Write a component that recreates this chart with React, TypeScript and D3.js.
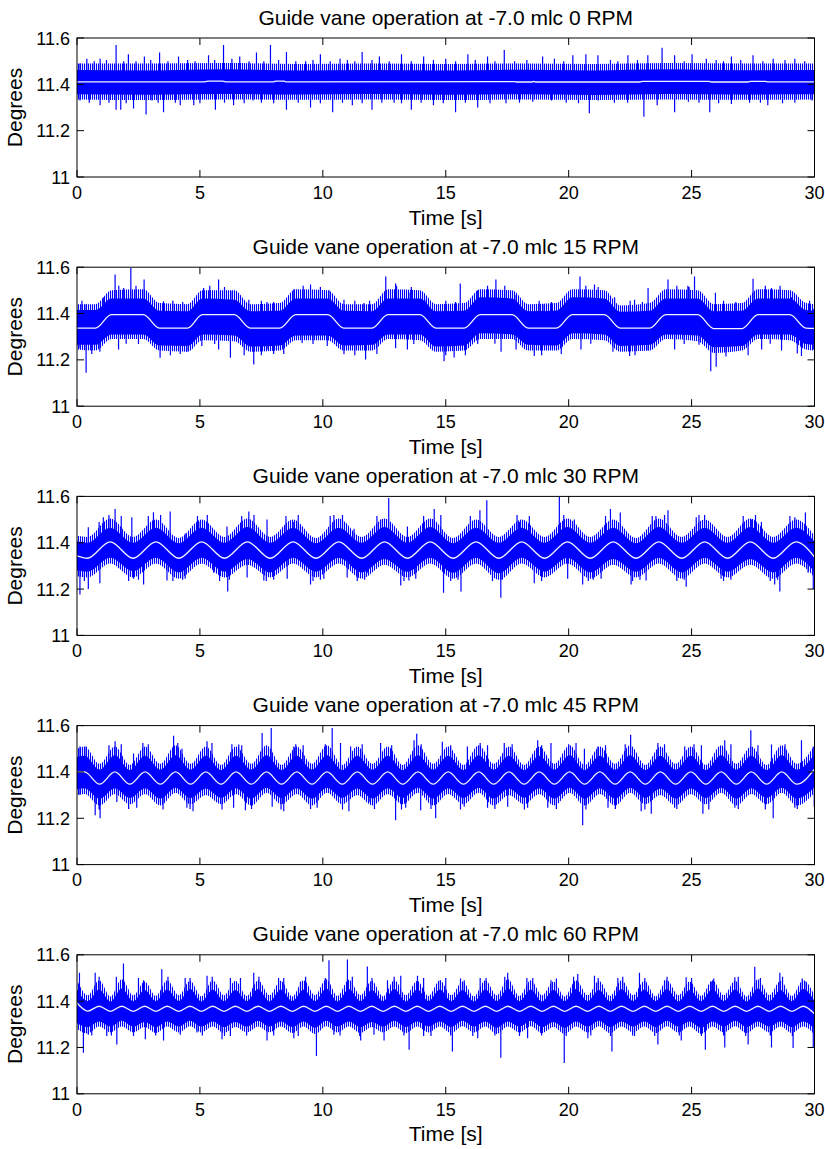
import React from "react";
import * as d3 from "d3";

type Pt = [number, number];
// [time, outer low, core low, core high, outer high]
type Bd = [number, number, number, number, number];

// Axis ticks and panel titles
const timeTicks = [0, 5, 10, 15, 20, 25, 30];
const degreeTicks = [11, 11.2, 11.4, 11.6];
const rpmLabels = [0, 15, 30, 45, 60];

// ---------- 0 RPM ----------
const p1Smooth: Pt[] = [
  [0, 11.411], [5.2, 11.411], [5.35, 11.414], [5.9, 11.414], [6.05, 11.411], [8.0, 11.411], [8.1, 11.414],
  [8.4, 11.414], [8.5, 11.411], [17.8, 11.412], [17.9, 11.41], [18.5, 11.41], [18.55, 11.413], [18.65, 11.41],
  [22.9, 11.41], [23.0, 11.413], [25.7, 11.413], [25.8, 11.41], [27.3, 11.41], [27.4, 11.413], [28.0, 11.413],
  [28.1, 11.411], [30, 11.411],
];
const p1Band: Bd[] = [
  [0, 11.335, 11.357, 11.462, 11.49], [3, 11.332, 11.355, 11.46, 11.49], [6, 11.335, 11.358, 11.465, 11.492],
  [9, 11.333, 11.356, 11.46, 11.488], [12, 11.335, 11.358, 11.462, 11.49], [15, 11.332, 11.355, 11.46, 11.488],
  [18, 11.335, 11.357, 11.463, 11.49], [21, 11.332, 11.354, 11.46, 11.488], [24, 11.335, 11.358, 11.465, 11.492],
  [27, 11.333, 11.356, 11.461, 11.49], [30, 11.335, 11.357, 11.462, 11.49],
];
const p1Up: Pt[] = [
  [0.12, 11.49], [0.4, 11.51], [0.94, 11.51], [1.59, 11.57], [2.09, 11.53], [2.74, 11.52], [3.36, 11.537], [4.13, 11.52],
  [5.35, 11.525], [5.96, 11.57], [6.62, 11.52], [7.3, 11.537], [7.87, 11.57], [8.52, 11.54], [9.3, 11.5], [9.9, 11.53],
  [10.7, 11.51], [11.6, 11.54], [12.3, 11.52], [13.2, 11.53], [14.1, 11.52], [15.0, 11.51], [15.9, 11.53], [16.7, 11.52],
  [17.38, 11.548], [18.94, 11.52], [19.42, 11.51], [20.17, 11.525], [20.7, 11.53], [21.19, 11.525], [22.41, 11.525],
  [23.22, 11.525], [23.8, 11.558], [24.31, 11.525], [25.02, 11.53], [25.6, 11.51], [26.62, 11.52], [27.5, 11.525],
  [28.32, 11.51], [29.2, 11.51],
  [0.7, 11.5], [1.2, 11.505], [1.9, 11.5], [2.4, 11.5], [3.0, 11.505], [3.7, 11.5], [4.5, 11.505], [4.8, 11.5],
  [5.6, 11.505], [6.3, 11.51], [7.0, 11.5], [7.6, 11.5], [8.2, 11.505], [8.9, 11.5], [9.6, 11.505], [10.3, 11.5],
  [11.0, 11.505], [11.3, 11.5], [12.0, 11.505], [12.7, 11.5], [13.6, 11.5], [14.5, 11.505], [15.4, 11.5],
  [16.2, 11.505], [17.0, 11.5], [17.8, 11.5], [18.3, 11.505], [19.8, 11.5], [21.7, 11.505], [22.0, 11.5],
  [22.8, 11.505], [24.7, 11.5], [26.0, 11.505], [26.3, 11.5], [27.0, 11.505], [27.9, 11.5], [28.8, 11.505], [29.6, 11.5],
];
const p1Down: Pt[] = [
  [0.12, 11.33], [0.94, 11.31], [1.59, 11.29], [1.78, 11.29], [2.3, 11.296], [2.81, 11.27], [3.05, 11.33], [3.52, 11.28],
  [4.2, 11.31], [4.75, 11.31], [5.63, 11.29], [6.37, 11.31], [7.16, 11.33], [8.52, 11.29], [9.5, 11.3], [10.4, 11.28],
  [11.2, 11.31], [12.0, 11.29], [12.9, 11.32], [13.6, 11.29], [14.5, 11.31], [15.4, 11.28], [16.3, 11.3],
  [17.45, 11.318], [18.54, 11.325], [19.3, 11.33], [20.84, 11.275], [21.2, 11.33], [21.86, 11.32], [23.06, 11.26],
  [23.6, 11.31], [24.31, 11.28], [24.87, 11.325], [25.74, 11.28], [26.62, 11.315], [27.36, 11.32], [28.1, 11.31],
  [29.2, 11.32], [29.9, 11.33],
  [0.5, 11.32], [1.3, 11.32], [2.0, 11.318], [3.3, 11.32], [4.0, 11.32], [5.0, 11.318], [6.0, 11.32], [6.8, 11.318],
  [7.5, 11.32], [8.0, 11.318], [9.0, 11.32], [9.9, 11.318], [10.8, 11.32], [11.6, 11.318], [12.4, 11.32], [13.2, 11.318],
  [14.0, 11.32], [14.9, 11.318], [15.8, 11.32], [16.8, 11.318], [18.0, 11.32], [19.9, 11.32], [20.4, 11.318],
  [22.4, 11.32], [25.3, 11.32], [26.1, 11.318], [27.8, 11.32], [28.7, 11.318],
];

// ---------- 15 RPM ----------
const p2Smooth: Pt[] = [
  [0, 11.337], [0.75, 11.337], [1.4, 11.395], [2.7, 11.395], [3.35, 11.337], [4.5, 11.337], [5.1, 11.395], [6.4, 11.395],
  [7.05, 11.337], [8.25, 11.337], [8.9, 11.395], [10.2, 11.395], [10.85, 11.337], [12.0, 11.337], [12.65, 11.395],
  [13.95, 11.395], [14.6, 11.337], [15.75, 11.337], [16.4, 11.395], [17.7, 11.395], [18.35, 11.337], [19.5, 11.337],
  [20.15, 11.395], [21.45, 11.395], [22.1, 11.337], [23.3, 11.337], [23.95, 11.395], [25.25, 11.395], [25.9, 11.335],
  [27.05, 11.335], [27.7, 11.395], [29.0, 11.395], [29.65, 11.337], [30, 11.336],
];
const p2Band: Bd[] = [
  [0, 11.245, 11.265, 11.415, 11.44], [0.75, 11.24, 11.265, 11.415, 11.44], [1.4, 11.29, 11.31, 11.465, 11.5],
  [2.7, 11.29, 11.31, 11.465, 11.505], [3.35, 11.24, 11.262, 11.412, 11.445], [4.5, 11.235, 11.26, 11.41, 11.44],
  [5.1, 11.285, 11.31, 11.465, 11.5], [6.4, 11.28, 11.305, 11.46, 11.5], [7.05, 11.235, 11.258, 11.41, 11.44],
  [8.25, 11.24, 11.262, 11.412, 11.445], [8.9, 11.285, 11.305, 11.465, 11.505], [10.2, 11.285, 11.305, 11.465, 11.5],
  [10.85, 11.24, 11.262, 11.412, 11.44], [12.0, 11.24, 11.265, 11.41, 11.44], [12.65, 11.29, 11.31, 11.465, 11.505],
  [13.95, 11.285, 11.31, 11.465, 11.5], [14.6, 11.235, 11.258, 11.41, 11.44], [15.75, 11.24, 11.262, 11.412, 11.445],
  [16.4, 11.29, 11.315, 11.47, 11.505], [17.7, 11.29, 11.31, 11.465, 11.5], [18.35, 11.24, 11.265, 11.41, 11.44],
  [19.5, 11.24, 11.262, 11.412, 11.445], [20.15, 11.29, 11.315, 11.47, 11.505], [21.45, 11.285, 11.31, 11.465, 11.5],
  [22.1, 11.235, 11.26, 11.408, 11.435], [23.3, 11.24, 11.265, 11.412, 11.445], [23.95, 11.29, 11.31, 11.465, 11.505],
  [25.25, 11.28, 11.305, 11.465, 11.5], [25.9, 11.23, 11.255, 11.41, 11.44], [27.05, 11.24, 11.26, 11.412, 11.445],
  [27.7, 11.29, 11.31, 11.465, 11.505], [29.0, 11.285, 11.31, 11.465, 11.5], [29.65, 11.245, 11.268, 11.415, 11.445],
  [30, 11.24, 11.265, 11.412, 11.44],
];
const p2Up: Pt[] = [
  [0.37, 11.44], [1.07, 11.47], [1.55, 11.568], [1.9, 11.51], [2.19, 11.597], [2.73, 11.547], [3.52, 11.453], [4.13, 11.44],
  [5.15, 11.51], [5.76, 11.547], [6.31, 11.497], [6.99, 11.46], [7.73, 11.45], [8.82, 11.505], [9.5, 11.525], [10.25, 11.5],
  [10.86, 11.46], [11.67, 11.445], [12.56, 11.56], [12.96, 11.53], [13.5, 11.49], [14.2, 11.46], [15.59, 11.53], [16.3, 11.5],
  [17.04, 11.547], [17.86, 11.48], [19.0, 11.44], [20.46, 11.56], [21.05, 11.525], [21.87, 11.47], [22.68, 11.46],
  [23.23, 11.51], [24.04, 11.547], [24.85, 11.52], [25.12, 11.56], [25.97, 11.49], [27.5, 11.55], [28.25, 11.51],
  [29.07, 11.47], [29.95, 11.42],
  [1.7, 11.52], [2.4, 11.52], [5.4, 11.52], [6.0, 11.515], [9.2, 11.52], [9.9, 11.515], [13.0, 11.52], [13.6, 11.515],
  [16.7, 11.52], [17.4, 11.52], [20.7, 11.52], [21.2, 11.515], [24.4, 11.52], [24.9, 11.515], [28.0, 11.52], [28.6, 11.52],
  [0.2, 11.455], [3.9, 11.455], [4.3, 11.45], [7.5, 11.455], [8.0, 11.45], [11.3, 11.455], [11.9, 11.455], [15.0, 11.455],
  [15.4, 11.45], [18.8, 11.455], [19.3, 11.45], [22.5, 11.455], [23.0, 11.45], [26.3, 11.455], [26.8, 11.45], [29.8, 11.455],
];
const p2Down: Pt[] = [
  [0.12, 11.25], [0.37, 11.144], [0.93, 11.235], [1.69, 11.245], [3.38, 11.209], [4.47, 11.235], [5.08, 11.26],
  [5.76, 11.245], [6.24, 11.209], [7.19, 11.18], [7.73, 11.245], [8.41, 11.225], [9.16, 11.273], [10.18, 11.26],
  [10.86, 11.224], [11.74, 11.202], [12.96, 11.25], [13.44, 11.245], [14.93, 11.194], [15.34, 11.21], [16.3, 11.268],
  [17.25, 11.235], [17.86, 11.245], [18.6, 11.217], [19.34, 11.245], [20.5, 11.245], [21.8, 11.235], [22.48, 11.217],
  [23.23, 11.24], [24.31, 11.245], [25.78, 11.151], [26.0, 11.17], [26.9, 11.26], [27.85, 11.245], [28.66, 11.24],
  [29.47, 11.217], [29.95, 11.245],
  [0.6, 11.225], [2.0, 11.27], [2.5, 11.268], [3.8, 11.22], [4.2, 11.225], [5.6, 11.268], [6.8, 11.22], [7.5, 11.22],
  [8.0, 11.225], [9.6, 11.268], [11.3, 11.22], [12.2, 11.225], [13.7, 11.268], [15.0, 11.22], [15.8, 11.22], [17.0, 11.27],
  [18.9, 11.22], [19.7, 11.225], [20.9, 11.27], [22.7, 11.22], [24.7, 11.268], [25.3, 11.265], [26.4, 11.215],
  [27.3, 11.22], [28.2, 11.27], [29.3, 11.228],
];

// ---------- 30 RPM ----------
const p3Smooth: Pt[] = [
  [0, 11.343], [0.42, 11.333], [1.35, 11.404], [2.28, 11.333], [3.21, 11.404], [4.14, 11.333], [5.07, 11.404],
  [6.0, 11.333], [6.93, 11.404], [7.86, 11.333], [8.79, 11.404], [9.72, 11.333], [10.65, 11.404], [11.58, 11.333],
  [12.51, 11.404], [13.44, 11.333], [14.37, 11.404], [15.3, 11.333], [16.23, 11.404], [17.16, 11.333], [18.09, 11.404],
  [19.02, 11.333], [19.95, 11.404], [20.88, 11.333], [21.81, 11.404], [22.74, 11.333], [23.67, 11.404], [24.6, 11.333],
  [25.53, 11.404], [26.46, 11.333], [27.39, 11.404], [28.32, 11.333], [29.25, 11.404], [30, 11.338],
];
const p3Band: Bd[] = [
  [0, 11.255, 11.28, 11.405, 11.43], [0.42, 11.25, 11.275, 11.4, 11.425], [1.35, 11.31, 11.335, 11.465, 11.505],
  [2.28, 11.25, 11.278, 11.4, 11.425], [3.21, 11.31, 11.335, 11.465, 11.5], [4.14, 11.245, 11.272, 11.398, 11.42],
  [5.07, 11.31, 11.335, 11.465, 11.5], [6.0, 11.25, 11.275, 11.4, 11.425], [6.93, 11.305, 11.33, 11.468, 11.505],
  [7.86, 11.25, 11.272, 11.4, 11.425], [8.79, 11.31, 11.335, 11.465, 11.5], [9.72, 11.25, 11.275, 11.398, 11.42],
  [10.65, 11.31, 11.335, 11.465, 11.505], [11.58, 11.245, 11.272, 11.4, 11.425], [12.51, 11.305, 11.33, 11.468, 11.505],
  [13.44, 11.25, 11.275, 11.4, 11.425], [14.37, 11.31, 11.335, 11.468, 11.505], [15.3, 11.245, 11.27, 11.398, 11.42],
  [16.23, 11.31, 11.335, 11.465, 11.5], [17.16, 11.24, 11.268, 11.4, 11.425], [18.09, 11.31, 11.335, 11.465, 11.5],
  [19.02, 11.25, 11.275, 11.4, 11.425], [19.95, 11.31, 11.335, 11.468, 11.505], [20.88, 11.245, 11.272, 11.4, 11.425],
  [21.81, 11.305, 11.33, 11.465, 11.5], [22.74, 11.25, 11.275, 11.398, 11.42], [23.67, 11.31, 11.335, 11.468, 11.505],
  [24.6, 11.245, 11.272, 11.4, 11.425], [25.53, 11.31, 11.335, 11.465, 11.5], [26.46, 11.25, 11.275, 11.4, 11.425],
  [27.39, 11.305, 11.33, 11.468, 11.505], [28.32, 11.245, 11.272, 11.4, 11.425], [29.25, 11.31, 11.335, 11.465, 11.5],
  [30, 11.25, 11.275, 11.405, 11.43],
];
const p3Up: Pt[] = [
  [0.46, 11.467], [1.07, 11.51], [1.55, 11.546], [2.23, 11.51], [3.11, 11.532], [3.79, 11.535], [4.4, 11.44], [5.01, 11.49],
  [6.1, 11.47], [6.99, 11.535], [7.73, 11.5], [8.82, 11.49], [9.09, 11.47], [10.45, 11.52], [11.27, 11.46], [12.35, 11.5],
  [12.68, 11.593], [13.44, 11.47], [14.53, 11.546], [16.39, 11.54], [16.67, 11.583], [18.0, 11.49], [19.62, 11.597],
  [20.23, 11.5], [21.7, 11.546], [22.1, 11.53], [23.55, 11.515], [24.04, 11.54], [25.19, 11.51], [25.53, 11.52],
  [27.43, 11.5], [27.84, 11.49], [29.2, 11.51], [29.63, 11.53],
  [0.9, 11.49], [1.3, 11.52], [1.8, 11.515], [2.9, 11.515], [3.4, 11.52], [4.9, 11.515], [5.3, 11.52], [6.7, 11.515],
  [7.2, 11.52], [8.5, 11.515], [9.0, 11.52], [10.3, 11.515], [10.8, 11.52], [12.2, 11.515], [14.1, 11.515], [14.8, 11.52],
  [16.0, 11.515], [17.9, 11.52], [18.4, 11.515], [19.8, 11.52], [21.5, 11.515], [23.4, 11.515], [23.9, 11.52], [25.3, 11.52],
  [27.1, 11.515], [27.6, 11.52], [29.0, 11.515],
];
const p3Down: Pt[] = [
  [0.12, 11.177], [0.46, 11.2], [0.93, 11.225], [1.69, 11.29], [2.3, 11.245], [2.71, 11.22], [3.66, 11.237], [4.4, 11.245],
  [5.56, 11.27], [6.13, 11.19], [6.92, 11.25], [7.6, 11.237], [8.55, 11.245], [9.5, 11.22], [10.04, 11.245], [10.99, 11.25],
  [11.81, 11.27], [13.17, 11.215], [13.5, 11.237], [13.78, 11.245], [14.91, 11.184], [15.62, 11.19], [17.24, 11.163],
  [18.6, 11.225], [19.96, 11.245], [20.57, 11.22], [21.32, 11.245], [22.54, 11.22], [23.15, 11.237], [24.78, 11.21],
  [26.2, 11.245], [28.38, 11.22], [28.59, 11.19], [29.74, 11.27], [29.95, 11.2],
  [0.3, 11.235], [2.1, 11.235], [2.5, 11.24], [3.9, 11.235], [4.3, 11.24], [5.8, 11.235], [6.2, 11.24], [7.7, 11.235],
  [8.0, 11.24], [9.6, 11.235], [9.9, 11.24], [11.4, 11.235], [11.7, 11.24], [13.3, 11.235], [15.2, 11.235], [15.5, 11.24],
  [16.9, 11.235], [17.3, 11.24], [18.9, 11.235], [20.8, 11.235], [21.0, 11.24], [22.6, 11.235], [22.9, 11.24],
  [24.4, 11.235], [24.7, 11.24], [26.3, 11.235], [26.6, 11.24], [28.2, 11.235], [28.5, 11.24],
];

// ---------- 45 RPM ----------
const p4Smooth: Pt[] = [
  [0, 11.401], [0.31, 11.4], [0.92, 11.347], [1.54, 11.4], [2.15, 11.347], [2.77, 11.4], [3.39, 11.347], [4.01, 11.4],
  [4.62, 11.347], [5.24, 11.4], [5.86, 11.347], [6.47, 11.4], [7.09, 11.347], [7.71, 11.4], [8.32, 11.347], [8.94, 11.4],
  [9.56, 11.347], [10.17, 11.4], [10.79, 11.347], [11.4, 11.4], [12.02, 11.347], [12.64, 11.4], [13.25, 11.347],
  [13.87, 11.4], [14.49, 11.347], [15.1, 11.4], [15.72, 11.347], [16.34, 11.4], [16.95, 11.347], [17.57, 11.4],
  [18.19, 11.347], [18.8, 11.4], [19.42, 11.347], [20.04, 11.4], [20.65, 11.347], [21.27, 11.4], [21.89, 11.347],
  [22.5, 11.4], [23.12, 11.347], [23.73, 11.4], [24.35, 11.347], [24.97, 11.4], [25.58, 11.347], [26.2, 11.4],
  [26.82, 11.347], [27.43, 11.4], [28.05, 11.347], [28.67, 11.4], [29.28, 11.347], [30, 11.412],
];
const p4Band: Bd[] = [
  [0, 11.3, 11.325, 11.465, 11.5], [0.31, 11.305, 11.33, 11.47, 11.51], [0.92, 11.255, 11.285, 11.41, 11.435],
  [1.54, 11.305, 11.33, 11.472, 11.51], [2.15, 11.26, 11.288, 11.408, 11.43], [2.77, 11.305, 11.33, 11.47, 11.51],
  [3.39, 11.255, 11.285, 11.41, 11.435], [4.01, 11.31, 11.332, 11.472, 11.515], [4.62, 11.26, 11.287, 11.41, 11.435],
  [5.24, 11.3, 11.328, 11.47, 11.51], [5.86, 11.26, 11.288, 11.408, 11.43], [6.47, 11.305, 11.33, 11.47, 11.51],
  [7.09, 11.255, 11.285, 11.41, 11.435], [7.71, 11.31, 11.332, 11.472, 11.515], [8.32, 11.26, 11.288, 11.408, 11.43],
  [8.94, 11.305, 11.33, 11.47, 11.51], [9.56, 11.255, 11.285, 11.41, 11.435], [10.17, 11.31, 11.332, 11.472, 11.515],
  [10.79, 11.26, 11.288, 11.408, 11.43], [11.4, 11.3, 11.328, 11.47, 11.51], [12.02, 11.255, 11.285, 11.41, 11.435],
  [12.64, 11.305, 11.33, 11.47, 11.51], [13.25, 11.26, 11.288, 11.408, 11.43], [13.87, 11.31, 11.332, 11.472, 11.515],
  [14.49, 11.255, 11.285, 11.41, 11.435], [15.1, 11.305, 11.33, 11.47, 11.51], [15.72, 11.26, 11.288, 11.408, 11.43],
  [16.34, 11.31, 11.332, 11.472, 11.515], [16.95, 11.255, 11.285, 11.41, 11.435], [17.57, 11.3, 11.328, 11.47, 11.51],
  [18.19, 11.26, 11.288, 11.408, 11.43], [18.8, 11.305, 11.33, 11.47, 11.51], [19.42, 11.255, 11.285, 11.41, 11.435],
  [20.04, 11.31, 11.332, 11.472, 11.515], [20.65, 11.255, 11.285, 11.408, 11.43], [21.27, 11.305, 11.33, 11.47, 11.51],
  [21.89, 11.255, 11.285, 11.41, 11.435], [22.5, 11.31, 11.332, 11.472, 11.515], [23.12, 11.26, 11.288, 11.408, 11.43],
  [23.73, 11.3, 11.328, 11.47, 11.51], [24.35, 11.255, 11.285, 11.41, 11.435], [24.97, 11.305, 11.33, 11.47, 11.51],
  [25.58, 11.26, 11.288, 11.408, 11.43], [26.2, 11.31, 11.332, 11.472, 11.515], [26.82, 11.255, 11.285, 11.41, 11.435],
  [27.43, 11.305, 11.33, 11.47, 11.51], [28.05, 11.26, 11.288, 11.408, 11.43], [28.67, 11.31, 11.332, 11.472, 11.515],
  [29.28, 11.255, 11.285, 11.41, 11.435], [30, 11.31, 11.335, 11.475, 11.515],
];
const p4Up: Pt[] = [
  [0.12, 11.51], [0.37, 11.51], [1.55, 11.532], [2.3, 11.48], [2.68, 11.525], [3.93, 11.556], [4.27, 11.5], [5.29, 11.532],
  [5.49, 11.525], [6.58, 11.518], [7.53, 11.568], [7.9, 11.59], [8.82, 11.51], [10.38, 11.59], [10.72, 11.525],
  [11.13, 11.51], [12.35, 11.525], [13.71, 11.537], [13.82, 11.565], [14.86, 11.53], [15.88, 11.51], [17.38, 11.525],
  [18.74, 11.537], [19.28, 11.525], [20.3, 11.525], [20.64, 11.5], [21.19, 11.51], [22.52, 11.56], [23.63, 11.525],
  [24.72, 11.51], [26.35, 11.537], [27.41, 11.58], [28.25, 11.518], [29.47, 11.537], [29.95, 11.51],
  [1.3, 11.515], [1.8, 11.52], [2.9, 11.52], [4.1, 11.525], [6.3, 11.52], [6.7, 11.515], [8.9, 11.52], [9.2, 11.515],
  [10.1, 11.52], [11.6, 11.52], [12.8, 11.515], [14.0, 11.52], [15.2, 11.515], [16.4, 11.525], [16.7, 11.515], [17.7, 11.52],
  [18.9, 11.515], [20.0, 11.52], [21.5, 11.515], [22.3, 11.52], [23.9, 11.52], [25.1, 11.52], [25.4, 11.515],
  [26.6, 11.52], [27.7, 11.515], [28.8, 11.52],
];
const p4Down: Pt[] = [
  [0.12, 11.3], [0.74, 11.213], [0.94, 11.2], [1.62, 11.27], [2.43, 11.245], [3.32, 11.265], [4.47, 11.245], [4.72, 11.23],
  [6.37, 11.245], [6.85, 11.235], [7.94, 11.25], [8.41, 11.23], [9.77, 11.245], [11.06, 11.23], [11.88, 11.27],
  [12.96, 11.191], [13.37, 11.245], [13.98, 11.235], [14.59, 11.2], [15.75, 11.25], [16.7, 11.245], [17.52, 11.25],
  [18.33, 11.245], [19.15, 11.245], [20.57, 11.17], [21.6, 11.245], [22.95, 11.23], [23.36, 11.22], [24.31, 11.245],
  [25.46, 11.22], [26.76, 11.245], [28.32, 11.2], [29.2, 11.245], [29.99, 11.25],
  [0.9, 11.238], [2.1, 11.24], [3.5, 11.238], [4.6, 11.24], [5.9, 11.238], [7.1, 11.24], [8.3, 11.238], [9.5, 11.24],
  [10.8, 11.238], [12.1, 11.24], [13.2, 11.238], [14.4, 11.24], [15.6, 11.238], [17.0, 11.24], [18.2, 11.238],
  [19.5, 11.24], [20.7, 11.238], [21.9, 11.24], [23.1, 11.238], [24.4, 11.24], [25.7, 11.238], [26.9, 11.24],
  [28.0, 11.238], [29.3, 11.24],
];

// ---------- 60 RPM ----------
const p5Smooth: Pt[] = [
  [0, 11.392], [0.44, 11.357], [0.9, 11.378], [1.36, 11.356], [1.82, 11.378], [2.29, 11.356], [2.75, 11.378],
  [3.21, 11.356], [3.67, 11.378], [4.14, 11.356], [4.6, 11.378], [5.06, 11.356], [5.52, 11.378], [5.98, 11.356],
  [6.44, 11.378], [6.91, 11.356], [7.37, 11.378], [7.83, 11.356], [8.29, 11.378], [8.76, 11.356], [9.22, 11.378],
  [9.68, 11.356], [10.14, 11.378], [10.6, 11.356], [11.06, 11.378], [11.53, 11.356], [11.99, 11.378], [12.45, 11.356],
  [12.91, 11.378], [13.38, 11.356], [13.84, 11.378], [14.3, 11.356], [14.76, 11.378], [15.22, 11.356], [15.68, 11.378],
  [16.15, 11.356], [16.61, 11.378], [17.07, 11.356], [17.53, 11.378], [18.0, 11.356], [18.46, 11.378], [18.92, 11.356],
  [19.38, 11.378], [19.84, 11.356], [20.3, 11.378], [20.77, 11.356], [21.23, 11.378], [21.69, 11.356], [22.15, 11.378],
  [22.62, 11.356], [23.08, 11.378], [23.54, 11.356], [24.0, 11.378], [24.46, 11.356], [24.92, 11.378], [25.39, 11.356],
  [25.85, 11.378], [26.31, 11.356], [26.77, 11.378], [27.24, 11.356], [27.7, 11.378], [28.16, 11.356], [28.62, 11.378],
  [29.08, 11.356], [29.54, 11.378], [30, 11.345],
];
const p5Band: Bd[] = [
  [0, 11.28, 11.305, 11.45, 11.49], [0.44, 11.26, 11.288, 11.4, 11.425], [0.9, 11.29, 11.312, 11.45, 11.49],
  [1.36, 11.265, 11.29, 11.398, 11.42], [1.82, 11.29, 11.315, 11.455, 11.495], [2.29, 11.265, 11.29, 11.4, 11.425],
  [2.75, 11.288, 11.31, 11.448, 11.485], [3.21, 11.262, 11.288, 11.4, 11.422], [3.67, 11.29, 11.312, 11.45, 11.49],
  [4.14, 11.265, 11.29, 11.4, 11.425], [4.6, 11.292, 11.315, 11.452, 11.488], [5.06, 11.265, 11.29, 11.398, 11.42],
  [5.52, 11.29, 11.312, 11.45, 11.49], [5.98, 11.262, 11.288, 11.4, 11.425], [6.44, 11.288, 11.31, 11.448, 11.488],
  [6.91, 11.265, 11.29, 11.4, 11.422], [7.37, 11.29, 11.315, 11.452, 11.49], [7.83, 11.265, 11.29, 11.398, 11.425],
  [8.29, 11.29, 11.312, 11.45, 11.488], [8.76, 11.262, 11.288, 11.4, 11.42], [9.22, 11.29, 11.312, 11.45, 11.49],
  [9.68, 11.258, 11.285, 11.4, 11.425], [10.14, 11.292, 11.315, 11.455, 11.495], [10.6, 11.265, 11.29, 11.398, 11.422],
  [11.06, 11.29, 11.312, 11.452, 11.492], [11.53, 11.262, 11.288, 11.4, 11.425], [11.99, 11.288, 11.31, 11.448, 11.488],
  [12.45, 11.265, 11.29, 11.4, 11.42], [12.91, 11.29, 11.315, 11.452, 11.49], [13.38, 11.262, 11.288, 11.398, 11.425],
  [13.84, 11.29, 11.312, 11.45, 11.488], [14.3, 11.265, 11.29, 11.4, 11.422], [14.76, 11.29, 11.312, 11.45, 11.49],
  [15.22, 11.262, 11.288, 11.4, 11.425], [15.68, 11.292, 11.315, 11.448, 11.485], [16.15, 11.265, 11.29, 11.398, 11.42],
  [16.61, 11.29, 11.312, 11.45, 11.49], [17.07, 11.258, 11.285, 11.4, 11.425], [17.53, 11.29, 11.312, 11.455, 11.495],
  [18.0, 11.265, 11.29, 11.4, 11.422], [18.46, 11.292, 11.315, 11.45, 11.49], [18.92, 11.262, 11.288, 11.398, 11.425],
  [19.38, 11.288, 11.31, 11.448, 11.485], [19.84, 11.258, 11.285, 11.4, 11.42], [20.3, 11.29, 11.312, 11.452, 11.49],
  [20.77, 11.265, 11.29, 11.4, 11.425], [21.23, 11.292, 11.315, 11.448, 11.488], [21.69, 11.262, 11.288, 11.398, 11.422],
  [22.15, 11.29, 11.312, 11.452, 11.49], [22.62, 11.265, 11.29, 11.4, 11.425], [23.08, 11.29, 11.312, 11.45, 11.488],
  [23.54, 11.262, 11.288, 11.4, 11.42], [24.0, 11.292, 11.315, 11.452, 11.49], [24.46, 11.265, 11.29, 11.398, 11.425],
  [24.92, 11.29, 11.312, 11.448, 11.485], [25.39, 11.258, 11.285, 11.4, 11.422], [25.85, 11.29, 11.312, 11.452, 11.49],
  [26.31, 11.265, 11.29, 11.4, 11.425], [26.77, 11.292, 11.315, 11.45, 11.488], [27.24, 11.262, 11.288, 11.398, 11.42],
  [27.7, 11.29, 11.312, 11.455, 11.495], [28.16, 11.265, 11.29, 11.4, 11.425], [28.62, 11.29, 11.312, 11.448, 11.488],
  [29.08, 11.262, 11.288, 11.4, 11.422], [29.54, 11.29, 11.312, 11.452, 11.49], [30, 11.255, 11.28, 11.4, 11.425],
];
const p5Up: Pt[] = [
  [0.1, 11.523], [0.74, 11.523], [1.89, 11.562], [2.71, 11.49], [3.45, 11.538], [4.4, 11.5], [5.29, 11.51], [6.24, 11.5],
  [6.65, 11.5], [7.19, 11.523], [8.41, 11.5], [9.09, 11.485], [10.25, 11.577], [11.0, 11.58], [11.81, 11.55],
  [12.63, 11.49], [13.17, 11.51], [13.85, 11.51], [14.1, 11.5], [14.78, 11.49], [15.75, 11.49], [16.64, 11.5],
  [17.52, 11.523], [18.54, 11.5], [19.28, 11.49], [20.37, 11.517], [21.05, 11.51], [22.0, 11.5], [22.88, 11.523],
  [23.9, 11.49], [24.78, 11.503], [25.8, 11.485], [26.76, 11.503], [27.57, 11.548], [28.59, 11.523], [29.61, 11.485],
  [0.9, 11.505], [1.6, 11.505], [2.5, 11.5], [3.7, 11.505], [4.6, 11.5], [5.5, 11.505], [7.4, 11.505], [8.2, 11.5],
  [9.3, 11.505], [10.1, 11.5], [11.2, 11.505], [12.0, 11.5], [12.9, 11.505], [15.0, 11.5], [15.6, 11.498],
  [16.4, 11.5], [17.4, 11.505], [18.3, 11.5], [19.5, 11.498], [20.2, 11.505], [21.2, 11.5], [22.2, 11.505],
  [23.1, 11.5], [24.0, 11.505], [25.0, 11.5], [25.9, 11.498], [26.9, 11.505], [27.8, 11.5], [28.7, 11.505], [29.5, 11.498],
];
const p5Down: Pt[] = [
  [0.26, 11.177], [0.46, 11.255], [1.21, 11.25], [1.62, 11.213], [2.78, 11.235], [3.52, 11.23], [4.2, 11.255],
  [4.88, 11.265], [5.9, 11.235], [6.24, 11.25], [7.73, 11.23], [8.82, 11.24], [9.74, 11.163], [10.45, 11.255],
  [11.54, 11.23], [12.08, 11.255], [12.49, 11.23], [13.51, 11.19], [14.1, 11.25], [15.27, 11.183], [16.3, 11.24],
  [17.24, 11.156], [18.33, 11.24], [19.82, 11.133], [20.78, 11.24], [21.76, 11.183], [22.68, 11.25], [23.63, 11.213],
  [24.58, 11.23], [25.56, 11.19], [26.35, 11.2], [27.3, 11.213], [28.25, 11.2], [29.13, 11.198], [29.95, 11.198],
  [0.6, 11.252], [1.4, 11.252], [2.3, 11.25], [3.2, 11.252], [5.1, 11.252], [6.0, 11.25], [6.9, 11.252], [8.0, 11.252],
  [9.0, 11.25], [10.7, 11.252], [11.5, 11.25], [13.3, 11.252], [14.4, 11.25], [15.2, 11.252], [16.1, 11.25],
  [17.0, 11.252], [18.0, 11.25], [18.9, 11.252], [19.9, 11.25], [20.9, 11.252], [21.7, 11.25], [22.6, 11.252],
  [23.5, 11.25], [24.5, 11.252], [25.4, 11.25], [26.3, 11.252], [27.2, 11.25], [28.2, 11.252], [29.1, 11.25],
];

const panels = [
  { smooth: p1Smooth, band: p1Band, up: p1Up, down: p1Down },
  { smooth: p2Smooth, band: p2Band, up: p2Up, down: p2Down },
  { smooth: p3Smooth, band: p3Band, up: p3Up, down: p3Down },
  { smooth: p4Smooth, band: p4Band, up: p4Up, down: p4Down },
  { smooth: p5Smooth, band: p5Band, up: p5Up, down: p5Down },
];

const W = 825;
const H = 1149;
const AX_LEFT = 77;
const AX_RIGHT = 814.5;
const TOP0 = 38;
const STEP = 229.2;
const PH = 139;
const TICK = 7;
const FONT = "'Liberation Sans', Arial, Helvetica, sans-serif";
const BLUE = "#0000ff";
const SPIKE_BASE = 11.37;

function Panel({ idx }: { idx: number }) {
  const p = panels[idx];
  const top = TOP0 + idx * STEP;
  const bottom = top + PH;
  const x = d3.scaleLinear().domain([0, 30]).range([AX_LEFT, AX_RIGHT]);
  const y = d3.scaleLinear().domain([11, 11.6]).range([bottom, top]);

  // outer, sparsely filled envelope of the noise
  const outer = d3
    .area<Bd>()
    .x((d) => x(d[0]))
    .y0((d) => y(d[1]))
    .y1((d) => y(d[4]))
    .curve(d3.curveMonotoneX);
  // solid core of the noise
  const core = d3
    .area<Bd>()
    .x((d) => x(d[0]))
    .y0((d) => y(d[2]))
    .y1((d) => y(d[3]))
    .curve(d3.curveMonotoneX);
  const line = d3
    .line<Pt>()
    .x((d) => x(d[0]))
    .y((d) => y(d[1]))
    .curve(d3.curveMonotoneX);

  const spikes = [...p.up, ...p.down]
    .map((d) => `M${x(d[0]).toFixed(2)},${y(SPIKE_BASE).toFixed(2)}V${y(d[1]).toFixed(2)}`)
    .join("");

  const clipId = `clip-${idx}`;
  const hairId = `hair-${idx}`;
  const cx = (AX_LEFT + AX_RIGHT) / 2;

  return (
    <g>
      <defs>
        <clipPath id={clipId}>
          <rect x={AX_LEFT} y={top} width={AX_RIGHT - AX_LEFT} height={PH} />
        </clipPath>
        <pattern id={hairId} x={0} y={0} width={2} height={20} patternUnits="userSpaceOnUse">
          <rect x={0} y={0} width={1.1} height={20} fill={BLUE} />
        </pattern>
      </defs>
      <text x={cx} y={top - 13.5} textAnchor="middle" fontSize={21} fontFamily={FONT} fill="#000">
        {`Guide vane operation at -7.0 mlc ${rpmLabels[idx]} RPM`}
      </text>
      <g clipPath={`url(#${clipId})`}>
        <path d={outer(p.band) ?? ""} fill={`url(#${hairId})`} />
        <path d={core(p.band) ?? ""} fill={BLUE} />
        <path d={spikes} stroke={BLUE} strokeWidth={1.2} fill="none" />
        <path d={line(p.smooth) ?? ""} stroke="#f4f4ff" strokeWidth={1.3} fill="none" />
      </g>
      <rect x={AX_LEFT} y={top} width={AX_RIGHT - AX_LEFT} height={PH} fill="none" stroke="#000" strokeWidth={1} />
      {timeTicks.map((t) => (
        <g key={`xt${t}`}>
          <line x1={x(t)} x2={x(t)} y1={bottom} y2={bottom - TICK} stroke="#000" />
          <line x1={x(t)} x2={x(t)} y1={top} y2={top + TICK} stroke="#000" />
          <text x={x(t)} y={bottom + 21.8} textAnchor="middle" fontSize={18} fontFamily={FONT} fill="#000">
            {t}
          </text>
        </g>
      ))}
      {degreeTicks.map((v) => (
        <g key={`yt${v}`}>
          <line x1={AX_LEFT} x2={AX_LEFT + TICK} y1={y(v)} y2={y(v)} stroke="#000" />
          <line x1={AX_RIGHT} x2={AX_RIGHT - TICK} y1={y(v)} y2={y(v)} stroke="#000" />
          <text x={70} y={y(v) + 6.5} textAnchor="end" fontSize={18} fontFamily={FONT} fill="#000">
            {v === 11 ? "11" : v.toFixed(1)}
          </text>
        </g>
      ))}
      <text x={cx} y={bottom + 47.5} textAnchor="middle" fontSize={21} fontFamily={FONT} fill="#000">
        Time [s]
      </text>
      <text
        transform={`translate(22,${(top + bottom) / 2}) rotate(-90)`}
        textAnchor="middle"
        fontSize={21}
        fontFamily={FONT}
        fill="#000"
      >
        Degrees
      </text>
    </g>
  );
}

export default function App() {
  return (
    <svg
      width={W}
      height={H}
      viewBox={`0 0 ${W} ${H}`}
      style={{ position: "absolute", left: 0, top: 0, background: "#fff" }}
    >
      <rect x={0} y={0} width={W} height={H} fill="#fff" />
      {panels.map((_, i) => (
        <Panel key={i} idx={i} />
      ))}
    </svg>
  );
}
